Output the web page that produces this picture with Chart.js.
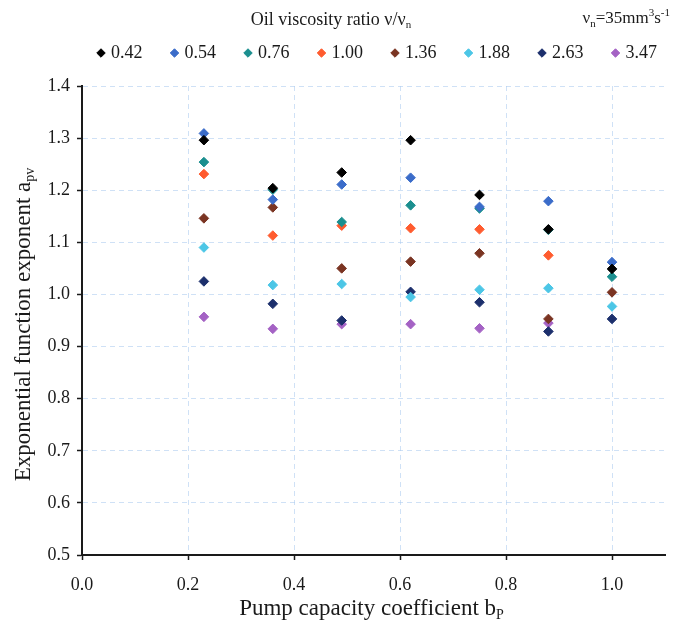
<!DOCTYPE html>
<html>
<head>
<meta charset="utf-8">
<script src="https://cdn.jsdelivr.net/npm/chart.js@4.4.1/dist/chart.umd.min.js"></script>
<style>
  html, body { margin: 0; padding: 0; background: #ffffff; }
  #wrap { width: 676px; height: 628px; position: relative; }
</style>
</head>
<body>
<div id="wrap"><canvas id="apvChart"></canvas></div>
<script>
// Pump capacity coefficient b_P of each measured column
const pumpCapacity = [0.23, 0.36, 0.49, 0.62, 0.75, 0.88, 1.00];

// Oil viscosity ratio v/vn (legend labels)
const viscosityRatios = ['0.42', '0.54', '0.76', '1.00', '1.36', '1.88', '2.63', '3.47'];

// Exponential function exponent a_pv, one list per viscosity ratio
const apv042 = [1.296, 1.204, 1.234, 1.296, 1.191, 1.125, 1.049];
const apv054 = [1.309, 1.182, 1.211, 1.224, 1.168, 1.179, 1.062];
const apv076 = [1.254, 1.201, 1.139, 1.171, 1.165, 1.124, 1.034];
const apv100 = [1.231, 1.113, 1.132, 1.127, 1.125, 1.075, null];
const apv136 = [1.146, 1.167, 1.050, 1.063, 1.079, 0.953, 1.004];
const apv188 = [1.090, 1.018, 1.020, 0.995, 1.009, 1.012, 0.977];
const apv263 = [1.025, 0.982, 0.950, 1.005, 0.985, 0.929, 0.953];
const apv347 = [0.957, 0.934, 0.943, 0.943, 0.935, 0.945, null];

// Axis ticks
const xTicks = [0.0, 0.2, 0.4, 0.6, 0.8, 1.0];
const yTicks = [0.5, 0.6, 0.7, 0.8, 0.9, 1.0, 1.1, 1.2, 1.3, 1.4];

const SERIF = "'Liberation Serif', 'Times New Roman', serif";
const TEXT_COLOR = '#1a1a1a';
const GRID_COLOR = 'rgba(175, 205, 240, 0.6)';

// Marker colours, same order as viscosityRatios
const colors = ['#000000', '#3b6cc9', '#1b8f8f', '#ff5b2e', '#7a3422', '#4cc6e6', '#1c2f6c', '#a462c4'];

// Legend sits a bit right of / above where Chart.js puts it
const LEGEND_DX = 23;
const LEGEND_DY = -14;

/**
 * Draws a line of text with sub / superscript parts
 */
function drawRich(ctx, parts, x, y, align, size) {
    const fontFor = (kind) => `${kind ? Math.round(size * 0.62) : size}px ${SERIF}`;
    const shift = { sub: size * 0.28, sup: -size * 0.36 };
    ctx.save();
    ctx.fillStyle = TEXT_COLOR;
    ctx.textBaseline = 'middle';
    ctx.textAlign = 'left';
    let total = 0;
    parts.forEach(([t, kind]) => {
        ctx.font = fontFor(kind);
        total += ctx.measureText(t).width;
    });
    let cx = align === 'center' ? x - total / 2 : (align === 'right' ? x - total : x);
    parts.forEach(([t, kind]) => {
        ctx.font = fontFor(kind);
        ctx.fillText(t, cx, y + (kind ? shift[kind] : 0));
        cx += ctx.measureText(t).width;
    });
    ctx.restore();
}

// Header texts and axis titles (they need subscripts)
const richTextPlugin = {
    id: 'richText',
    afterDraw(chart) {
        const ctx = chart.ctx;
        const area = chart.chartArea;
        drawRich(ctx, [['Oil viscosity ratio \u03bd/\u03bd'], ['n', 'sub']], 331, 20, 'center', 18);
        drawRich(ctx, [['\u03bd'], ['n', 'sub'], ['=35mm'], ['3', 'sup'], ['s'], ['-1', 'sup']], 670, 19, 'right', 17);
        drawRich(ctx, [['Pump capacity coefficient b'], ['P', 'sub']], (area.left + area.right) / 2 - 2, 609, 'center', 23);
        ctx.save();
        ctx.translate(24, (area.top + area.bottom) / 2 + 4);
        ctx.rotate(-Math.PI / 2);
        drawRich(ctx, [['Exponential function exponent a'], ['pv', 'sub']], 0, 0, 'center', 23);
        ctx.restore();
    }
};

// Shift the legend drawing to where the reference has it
const legendShiftPlugin = {
    id: 'legendShift',
    afterInit(chart) {
        const legend = chart.legend;
        if (!legend) return;
        const draw = legend.draw;
        legend.draw = function (area) {
            chart.ctx.save();
            chart.ctx.translate(LEGEND_DX, LEGEND_DY);
            draw.call(this, area);
            chart.ctx.restore();
        };
    }
};

const series = [apv042, apv054, apv076, apv100, apv136, apv188, apv263, apv347];

const datasets = series.map((values, i) => ({
    label: viscosityRatios[i],
    data: pumpCapacity.map((x, j) => ({ x: x, y: values[j] })),
    pointStyle: 'rectRot',
    pointRadius: 4.8,
    backgroundColor: colors[i],
    borderColor: colors[i],
    borderWidth: 1,
    showLine: false
}));

Chart.defaults.font.family = SERIF;
Chart.defaults.color = TEXT_COLOR;

new Chart(document.getElementById('apvChart'), {
    type: 'scatter',
    data: { datasets: datasets },
    plugins: [legendShiftPlugin, richTextPlugin],
    options: {
        responsive: true,
        maintainAspectRatio: false,
        animation: false,
        layout: {
            padding: { top: 27, right: 11, bottom: 0, left: 0 }
        },
        plugins: {
            legend: {
                position: 'top',
                align: 'end',
                labels: {
                    usePointStyle: true,
                    boxWidth: 2,
                    boxHeight: 6,
                    padding: 31,
                    color: TEXT_COLOR,
                    font: { size: 18, family: SERIF }
                }
            },
            tooltip: { enabled: false }
        },
        scales: {
            x: {
                type: 'linear',
                min: 0,
                max: 1.1,
                afterBuildTicks: (scale) => { scale.ticks = xTicks.map(v => ({ value: v })); },
                afterFit: (scale) => { scale.height = 73; },
                ticks: {
                    padding: 14,
                    color: TEXT_COLOR,
                    font: { size: 18 },
                    callback: (v) => Number(v).toFixed(1)
                },
                grid: {
                    color: GRID_COLOR,
                    lineWidth: 1,
                    tickLength: 5,
                    tickColor: TEXT_COLOR,
                    tickWidth: 1.5
                },
                border: { display: true, color: TEXT_COLOR, width: 2, dash: [5, 4] }
            },
            y: {
                type: 'linear',
                min: 0.5,
                max: 1.4,
                afterBuildTicks: (scale) => { scale.ticks = yTicks.map(v => ({ value: v })); },
                afterFit: (scale) => { scale.width = 82; },
                ticks: {
                    padding: 7,
                    color: TEXT_COLOR,
                    font: { size: 18 },
                    callback: (v) => Number(v).toFixed(1)
                },
                grid: {
                    color: GRID_COLOR,
                    lineWidth: 1,
                    tickLength: 5,
                    tickColor: TEXT_COLOR,
                    tickWidth: 1.5
                },
                border: { display: true, color: TEXT_COLOR, width: 2, dash: [5, 4] }
            }
        }
    }
});
</script>
</body>
</html>
